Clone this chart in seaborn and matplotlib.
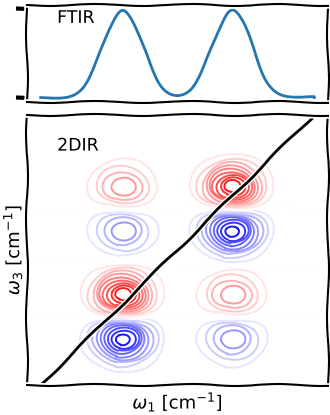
import numpy as np
import matplotlib
matplotlib.use("Agg")
import matplotlib.pyplot as plt
import seaborn as sns

# ---- data ----
ftir_centers = [1630, 1670]        # cm^-1
ftir_amplitudes = [1.0, 1.0]
ftir_sigma = [7.0, 7.0]
omega_limits = [1600, 1700]

# 2DIR lobes: omega1 centre, omega3 centre, amplitude (+ red / - blue)
lobe_w1 = [1630, 1630, 1670, 1670, 1630, 1630, 1670, 1670]
lobe_w3 = [1633.0, 1617.5, 1673.0, 1657.5, 1673.0, 1657.5, 1633.0, 1617.5]
lobe_amp = [1.0, -1.0, 1.0, -1.0, 0.5, -0.5, 0.5, -0.5]
lobe_sx = 7.2
lobe_sy = 6.0
diag_x = [1600, 1700]
diag_y = [1600, 1700]

plt.xkcd()
plt.rcParams['font.family'] = ['DejaVu Sans']

fig = plt.figure(figsize=(3.3, 4.15), dpi=100)
ax1 = fig.add_axes([27/330, 1 - 102/415, 301/330, 97/415])
ax2 = fig.add_axes([27/330, 30/415, 301/330, 270/415])

w = np.linspace(omega_limits[0], omega_limits[1], 400)
ftir = np.zeros_like(w)
for c, a, s in zip(ftir_centers, ftir_amplitudes, ftir_sigma):
    ftir += a * np.exp(-(w - c)**2 / (2 * s**2))
sns.lineplot(x=w, y=ftir, ax=ax1, color='#2475b0', lw=2)
ax1.set_xlim(1595, 1705)
ax1.set_ylim(-0.05, 1.05)
ax1.set_xticks([])
ax1.set_yticks([0, 1])
ax1.set_yticklabels([])
ax1.text(0.1, 0.96, 'FTIR', transform=ax1.transAxes, va='top', fontsize=12.5)

g1 = np.linspace(1595, 1705, 300)
g3 = np.linspace(1600, 1700, 300)
W1, W3 = np.meshgrid(g1, g3)
Z = np.zeros_like(W1)
for x0, y0, a in zip(lobe_w1, lobe_w3, lobe_amp):
    Z += a * np.exp(-(W1 - x0)**2 / (2 * lobe_sx**2) - (W3 - y0)**2 / (2 * lobe_sy**2))
ax2.contour(W1, W3, Z, levels=np.linspace(-1, 1, 21), cmap='bwr', linewidths=1.4)
sns.lineplot(x=diag_x, y=diag_y, ax=ax2, color='k', lw=2)
ax2.set_xlim(1595, 1705)
ax2.set_ylim(1600, 1700)
ax2.set_xticks([])
ax2.set_yticks([])
ax2.set_xlabel(r'$\omega_1$ [cm$^{-1}$]', fontsize=13)
ax2.set_ylabel(r'$\omega_3$ [cm$^{-1}$]', fontsize=13, labelpad=2)
ax2.text(0.1, 0.92, '2DIR', transform=ax2.transAxes, va='top', fontsize=12.5)

fig.savefig('out.png', dpi=100)
